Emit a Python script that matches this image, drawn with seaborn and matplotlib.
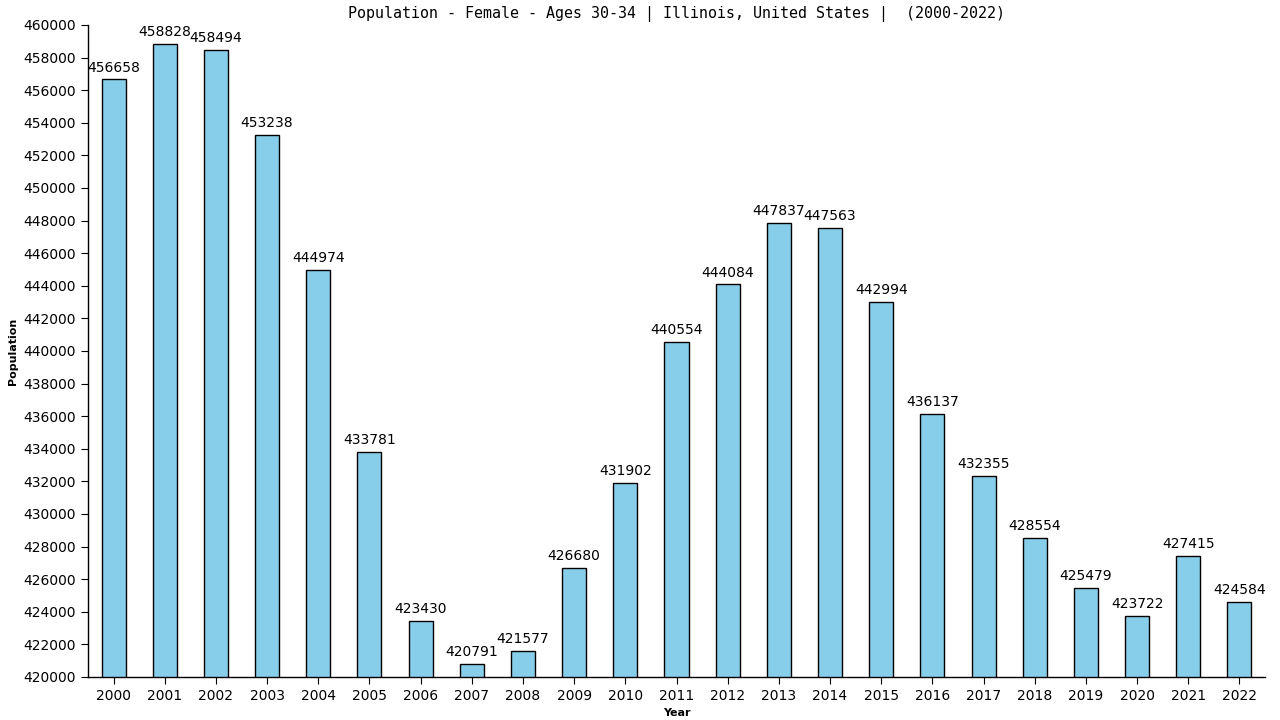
import matplotlib
matplotlib.use("Agg")
import matplotlib.pyplot as plt
import seaborn as sns
import pandas as pd

years = [str(y) for y in range(2000, 2023)]
values = [456658, 458828, 458494, 453238, 444974, 433781, 423430, 420791, 421577,
          426680, 431902, 440554, 444084, 447837, 447563, 442994, 436137, 432355,
          428554, 425479, 423722, 427415, 424584]
title = "Population - Female - Ages 30-34 | Illinois, United States |  (2000-2022)"

sns.set_style("white")
plt.rcParams['font.family'] = ['DejaVu Sans']
plt.rcParams['text.color'] = 'black'
plt.rcParams['axes.labelcolor'] = 'black'
plt.rcParams['xtick.color'] = 'black'
plt.rcParams['ytick.color'] = 'black'

df = pd.DataFrame({"Year": years, "Population": values})
fig = plt.figure(figsize=(12.8, 7.2), dpi=100)
ax = fig.add_axes([88/1280, 1-677/720, (1265-88)/1280, (677-25)/720])
sns.barplot(data=df, x="Year", y="Population", color="#87CEEB", saturation=1,
            edgecolor="black", linewidth=1, width=0.47, ax=ax)
ax.set_ylim(420000, 460000)
ax.set_xlim(-0.5, 22.5)
ax.set_yticks(range(420000, 460001, 2000))
ax.set_yticklabels([str(v) for v in range(420000, 460001, 2000)], fontsize=10)
ax.tick_params(axis='x', labelsize=10, length=5, direction='out', bottom=True)
ax.tick_params(axis='y', length=5, direction='out', left=True)
for s in ["top", "right"]:
    ax.spines[s].set_visible(False)
for s in ["left", "bottom"]:
    ax.spines[s].set_color("black")
    ax.spines[s].set_linewidth(1)
for i, v in enumerate(values):
    ax.text(i, v + 300, str(v), ha="center", va="bottom", fontsize=10, color="black")
ax.set_xlabel("Year", fontsize=8, fontweight="bold")
ax.set_ylabel("Population", fontsize=8, fontweight="bold")
ax.set_title(title, fontsize=10.8, pad=5, family=["DejaVu Sans Mono"], color="black")
fig.savefig("out.png", dpi=100)
